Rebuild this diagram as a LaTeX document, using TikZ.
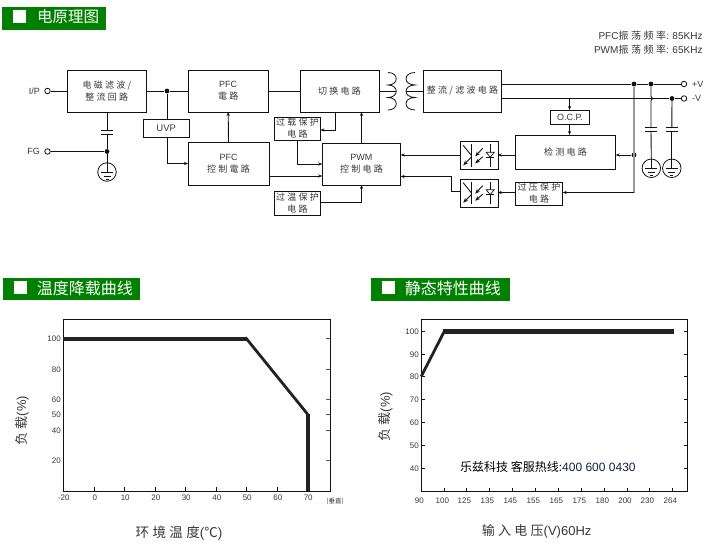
\documentclass[tikz,border=0pt]{standalone}
\usepackage{fontspec}
\setmainfont{Liberation Sans}
\newfontfamily\cn{Noto Sans CJK SC}
\newfontfamily\cns[LetterSpace=25]{Noto Sans CJK SC}
\usetikzlibrary{arrows.meta,calc}
\definecolor{bannergreen}{HTML}{008000}
\definecolor{txt}{HTML}{383838}
\definecolor{ax}{HTML}{111111}
\definecolor{tickblue}{HTML}{1F5FA8}
\definecolor{curve}{HTML}{222222}
\definecolor{navy}{HTML}{10204A}
\tikzset{
  x=1pt,y=-1pt,
  wire/.style={line width=0.9pt,draw=ax},
  arw/.style={wire,-{Stealth[length=4pt,width=3.2pt]}},
  grayw/.style={line width=1.1pt,draw=black!40},
  blk/.style={draw=ax,line width=0.9pt,inner sep=0pt,outer sep=0pt,align=center,text=txt,font=\fontsize{9}{12}\selectfont},
  dotn/.style={circle,fill=ax,inner sep=0pt,minimum size=4.8pt},
  term/.style={circle,draw=ax,line width=0.8pt,fill=white,inner sep=0pt,minimum size=5.5pt},
  lab/.style={text=txt,inner sep=0pt,font=\fontsize{9}{10}\selectfont},
  gndc/.style={circle,draw=ax,line width=0.8pt,inner sep=0pt,minimum size=18.5pt},
  bann/.style={fill=bannergreen,inner sep=0pt},
  bsq/.style={fill=white,inner sep=0pt,minimum size=13pt},
  btxt/.style={text=white,inner sep=0pt,font=\cn\fontsize{15.5}{16}\selectfont},
  tk/.style={text=txt,inner sep=0pt,font=\fontsize{8}{9}\selectfont},
  axl/.style={text=txt,inner sep=0pt,font=\fontsize{13}{15}\selectfont},
  frm/.style={draw=ax,line width=1pt},
  thick curve/.style={draw=curve,line width=4.4pt},
  thin curve/.style={draw=curve,line width=2.8pt},
}
\newcommand{\boxat}[7]{\node[blk,minimum width=#4,minimum height=#5] (#1) at (#2,#3) {#6\\#7};}
\newcommand{\gndsym}[3]{%
  \node[gndc] (#1) at (#2,#3) {};
  \draw[wire] (#2-6,#3) -- (#2+6,#3);
  \draw[wire] (#2-3.5,#3+4) -- (#2+3.5,#3+4);
  \draw[wire] (#2-1.5,#3+7.5) -- (#2+1.5,#3+7.5);
  \draw[wire] (#1.north) -- (#2,#3);
}
\newcommand{\opto}[3]{%
  \begin{scope}[shift={(#2,#3)}]
    \node[draw=ax,line width=0.9pt,inner sep=0pt,minimum width=37.5pt,minimum height=28pt,anchor=north west] (#1) at (0,0) {};
    \draw[wire] (11,3) -- (11,25.5);
    \draw[wire] (3,4) -- (11,14) ;
    \draw[wire,-{Stealth[length=5pt,width=4pt]}] (11,16) -- (3,24);
    \draw[wire,-{Stealth[length=5pt,width=4pt]}] (22.5,7) -- (15,15);
    \draw[wire,-{Stealth[length=5pt,width=4pt]}] (22.5,15.5) -- (15,22);
    \draw[wire] (30,3) -- (30,25.5);
    \draw[line width=0.7pt,draw=ax,fill=white] (26,11) -- (34,11) -- (30,16) -- cycle;
    \draw[wire] (26,16) -- (34,16);
  \end{scope}
}
\begin{document}
\begin{tikzpicture}
\useasboundingbox (0,0) rectangle (727,559);
\fill[white] (0,0) rectangle (727,559);

% ---- banners
\node[bann,minimum width=104pt,minimum height=23pt] (b1) at (54,18.5) {};
\node[bsq] (b1s) at (19.5,16.5) {};
\node[btxt,anchor=west] (b1t) at (37,17) {电原理图};
\node[bann,minimum width=137pt,minimum height=22pt] (b2) at (71.5,289) {};
\node[bsq] (b2s) at (20.5,287.5) {};
\node[btxt,anchor=west,font=\cn\fontsize{16}{17}\selectfont] (b2t) at (36.7,288) {温度降载曲线};
\node[bann,minimum width=139pt,minimum height=23pt] (b3) at (440.5,289.5) {};
\node[bsq] (b3s) at (388.5,287.5) {};
\node[btxt,anchor=west,font=\cn\fontsize{16}{17}\selectfont] (b3t) at (404.7,288) {静态特性曲线};

% ---- frequency note
\node[lab,anchor=east,font=\fontsize{10}{11}\selectfont] (f1) at (702.7,35.5) {PFC{\cns 振荡频率}: 85KHz};
\node[lab,anchor=east,font=\fontsize{10}{11}\selectfont] (f2) at (702.7,49.5) {PWM{\cns 振荡频率}: 65KHz};

% ---- blocks
\boxat{emi}{106.8}{91}{79.5pt}{42pt}{\cns 电磁滤波/}{\cns 整流回路}
\boxat{pfc}{228.2}{91}{80.5pt}{42pt}{PFC}{\cns 電路}
\node[blk,minimum width=79pt,minimum height=42pt] (sw) at (339.5,91) {\cns 切换电路};
\node[blk,minimum width=78.5pt,minimum height=42pt] (rect) at (462.5,91) {\cns 整流/滤波电路};
\node[blk,minimum width=46.5pt,minimum height=18pt,font=\fontsize{9.5}{11}\selectfont] (uvp) at (166.2,128) {UVP};
\boxat{pfcc}{228.5}{163.5}{81pt}{43pt}{PFC}{\cns 控制電路}
\boxat{ol}{297.5}{128.5}{46pt}{23pt}{\cns 过载保护}{\cns 电路}
\boxat{pwm}{361.4}{164}{78.5pt}{42pt}{PWM}{\cns 控制电路}
\boxat{ot}{297.5}{203}{46pt}{24pt}{\cns 过温保护}{\cns 电路}
\node[blk,minimum width=39.5pt,minimum height=14pt,font=\fontsize{9}{10}\selectfont] (ocp) at (570,117) {O.C.P.};
\node[blk,minimum width=100.5pt,minimum height=34.5pt] (det) at (565.5,152.3) {\cns 检测电路};
\boxat{ovp}{539}{193.5}{47.5pt}{23pt}{\cns 过压保护}{\cns 电路}
\opto{o1}{460.2}{141.3}
\opto{o2}{460.2}{178.7}

% ---- terminals, dots
\node[lab,anchor=east] (ipl) at (40,91) {I/P};
\node[term] (ip) at (47.5,91) {};
\node[lab,anchor=east] (fgl) at (40,151.5) {FG};
\node[term] (fg) at (47.5,151.5) {};
\node[dotn] (d1) at (167,91) {};
\node[dotn] (d2) at (107,151.5) {};
\node[dotn] (d3) at (634,84) {};
\node[dotn] (d4) at (651,84) {};
\node[dotn] (d5) at (672,98.5) {};
\node[dotn] (d6) at (634,155) {};
\node[term] (pv) at (684,84) {};
\node[term] (nv) at (684,98.5) {};
\node[lab,anchor=west] (pvl) at (692,84) {+V};
\node[lab,anchor=west] (nvl) at (692,98.5) {-V};
\gndsym{g1}{107}{172}
\gndsym{g2}{651.3}{168.3}
\gndsym{g3}{671.8}{168.3}

% ---- routing points
\coordinate (ea) at (107,112);
\coordinate (c1a) at (107,130);
\coordinate (c1b) at (107,134);
\coordinate (sa) at (335.5,112);
\coordinate (oli) at (320.5,130);
\coordinate (olo) at (297.5,140);
\coordinate (pwi) at (322.2,164);
\coordinate (pci) at (269,176);
\coordinate (pwi2) at (322.2,176);
\coordinate (oto) at (320.5,202);
\coordinate (pwb) at (361.5,185);
\coordinate (pwt) at (361.5,143);
\coordinate (swb) at (361.5,112);
\coordinate (rt) at (501.7,84);
\coordinate (rb) at (501.7,98.5);
\coordinate (ot1) at (569.5,98.5);
\coordinate (ocpt) at (569.5,110);
\coordinate (ocpb) at (569.5,124);
\coordinate (dett) at (569.5,135);
\coordinate (c2a) at (651,127);
\coordinate (c2b) at (651,131);
\coordinate (c3a) at (671.8,127);
\coordinate (c3b) at (671.8,131);
\coordinate (hop1) at (651,96.5);
\coordinate (hop2) at (651,100.5);
\coordinate (gr) at (634,192.5);
\coordinate (ovpe) at (562.7,192.5);
\coordinate (ovpw) at (515.3,192.5);
\coordinate (o2e) at (497.7,192.5);
\coordinate (o2w) at (460.2,191);
\coordinate (kink) at (451.5,191);
\coordinate (pwe2) at (400.7,176.5);
\coordinate (detw) at (515.3,155);
\coordinate (dete) at (615.7,155);
\coordinate (o1e) at (497.7,155);
\coordinate (o1w) at (460.2,155);
\coordinate (pwe1) at (400.7,155);
\coordinate (tl) at (396,91);
\coordinate (tr) at (406,91);

% ---- connectors, left part
\draw[wire] (ip) -- (emi.west);
\draw[wire] (emi.east) -- (d1) -- (pfc.west);
\draw[wire] (d1) -- (d1 |- uvp.north);
\draw[arw] (d1 |- uvp.south) |- (pfcc.west);
\draw[arw] (pfcc.north) -- (pfc.south);
\draw[wire] (pfc.east) -- (sw.west);
\draw[wire] (ea) -- (c1a);
\draw[wire] ($(c1a)+(-6,0)$) -- ($(c1a)+(6,0)$);
\draw[wire] ($(c1b)+(-6,0)$) -- ($(c1b)+(6,0)$);
\draw[wire] (c1b) -- (d2);
\draw[wire] (fg) -- (d2);
\draw[wire] (d2) -- (g1.north);
\draw[arw] (sa) |- (oli);
\draw[arw] (olo) |- (pwi);
\draw[arw] (pci) -- (pwi2);
\draw[arw] (oto) -| (pwb);
\draw[arw] (pwt) -- (swb);

% ---- transformer
\draw[wire] (sw.east) -- (tl);
\draw[wire] (tr) -- (rect.west);
\draw[line width=0.8pt,draw=ax] (388,72.5) .. controls (399,72.5) and (399,85) .. (388,85) .. controls (399,85) and (399,97.5) .. (388,97.5) .. controls (399,97.5) and (399,110) .. (388,110);
\draw[line width=0.8pt,draw=ax] (415,72.5) .. controls (403,72.5) and (403,85) .. (415,85) .. controls (403,85) and (403,97.5) .. (415,97.5) .. controls (403,97.5) and (403,110) .. (415,110);

% ---- output
\draw[grayw] (d3) -- (gr);
\draw[wire] (rt) -- (d3) -- (d4) -- (pv);
\draw[wire] (rb) -- (hop1 |- rb) -- (d5) -- (nv);
\draw[wire] (d4) -- (hop1) .. controls (653,97) and (653,100) .. (hop2) -- (c2a);
\draw[wire] ($(c2a)+(-6,0)$) -- ($(c2a)+(6,0)$);
\draw[wire] ($(c2b)+(-6,0)$) -- ($(c2b)+(6,0)$);
\draw[wire] (c2b) -- (g2.north);
\draw[wire] (d5) -- (c3a);
\draw[wire] ($(c3a)+(-6,0)$) -- ($(c3a)+(6,0)$);
\draw[wire] ($(c3b)+(-6,0)$) -- ($(c3b)+(6,0)$);
\draw[wire] (c3b) -- (g3.north);
\draw[arw] (ot1) -- (ocpt);
\draw[arw] (ocpb) -- (dett);
\draw[arw] (d6) -- (dete);
\draw[arw] (detw) -- (o1e);
\draw[arw] (o1w) -- (pwe1);
\draw[arw] (gr) -- (ovpe);
\draw[arw] (ovpw) -- (o2e);
\draw[arw] (o2w) -- (kink) |- (pwe2);

% ---- chart 1
\coordinate (cA) at (63.3,319.3);
\coordinate (cB) at (330.3,491.3);
\draw[frm] (cA) rectangle (cB);
\foreach \x/\l [count=\i] in {63.3/-20,94.3/0,124.7/10,155.3/20,185.7/30,216.3/40,246.7/50,277.3/60,307.7/70}{
  \draw[wire] (\x,491.3) -- (\x,487);
  \node[tk] (ax\i) at (\x+0.5,497.5) {\l};
}
\foreach \y/\l [count=\i] in {338.7/100,369.3/80,399.3/60,414.3/50,430.3/40,460.3/20}{
  \draw[line width=0.9pt,draw=tickblue] (326,\y) -- (330.3,\y);
  \node[tk,anchor=east] (ay\i) at (61,\y) {\l};
}
\draw[thick curve] (63.3,338.7) -- (246.7,338.7);
\draw[thin curve] (245.5,337.5) -- (307.7,414.3);
\draw[thick curve] (307.7,413.5) -- (307.7,491.3);
\node[axl,rotate=90] (ayl) at (22,420.7) {{\cns 负载}(\%)};
\node[axl,font=\fontsize{13.5}{15}\selectfont] (axlab) at (179,533) {{\cns 环境温度}({\cn ℃})};
\node[tk,font=\cn\fontsize{6.5}{8}\selectfont] (axv) at (335,501.5) {(垂直)};

% ---- chart 2
\coordinate (dA) at (421.3,319.3);
\coordinate (dB) at (687.3,491.3);
\draw[frm] (dA) rectangle (dB);
\foreach \x/\l [count=\i] in {421.3/90,444.3/100,466.3/125,489.3/135,512.3/145,535.3/155,558.3/165,581.3/175,604.3/180,627/200,649.3/230,672.3/264}{
  \draw[wire] (\x,491.3) -- (\x,488);
  \node[tk] (bx\i) at (\x-2,501) {\l};
}
\foreach \y/\l [count=\i] in {331.3/100,354.3/90,376.3/80,399.3/70,422.3/60,445.3/50,468.3/40}{
  \draw[wire] (421.3,\y) -- (424.5,\y);
  \draw[wire] (684,\y) -- (687.3,\y);
  \node[tk,anchor=east] (by\i) at (419,\y) {\l};
}
\draw[thin curve] (421.3,376.3) -- (444.3,331.3);
\draw[thick curve] (442.5,331.3) -- (674,331.3);
\node[axl,rotate=90] (byl) at (385.7,416.7) {{\cns 负载}(\%)};
\node[axl] (bxlab) at (536.7,531.7) {{\cns 输入电压}(V)60Hz};
\node[inner sep=0pt,anchor=west,text=black,font=\fontsize{12}{14}\selectfont] (hot) at (460,467.3) {{\cn 乐兹科技 客服热线:}\textcolor{navy}{400 600 0430}};
\end{tikzpicture}
\end{document}
